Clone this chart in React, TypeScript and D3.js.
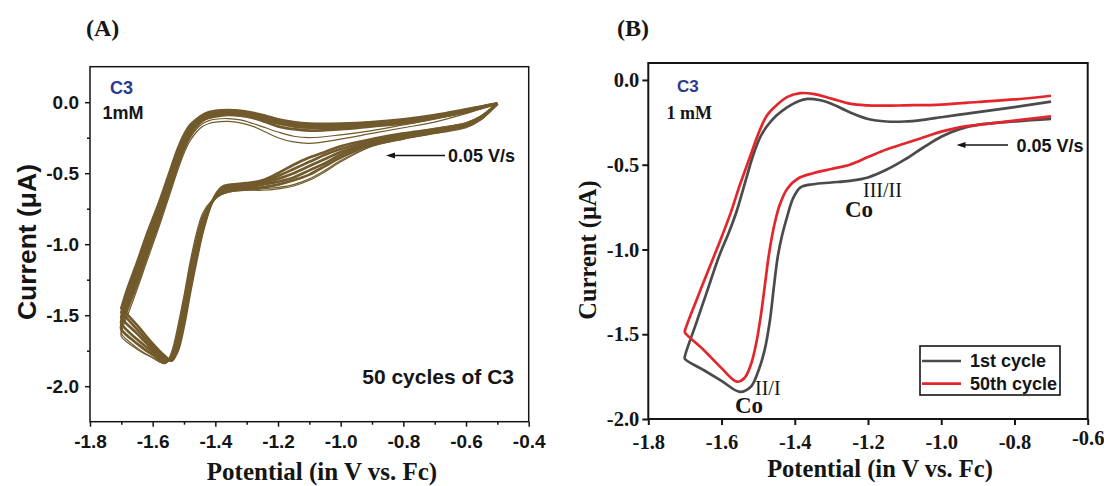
import React, { useEffect, useRef } from "react";
import * as d3 from "d3";

// ---------- panel (A): 50 cycles of C3, a representative set of cycles
const fwdPotential = [-0.5, -0.55, -0.6, -0.7, -0.8, -0.9, -1.0, -1.05, -1.1, -1.15, -1.2, -1.25, -1.3, -1.35, -1.38, -1.41, -1.44, -1.46, -1.48, -1.5, -1.52, -1.54, -1.56, -1.6, -1.65, -1.7];
const revPotential = [-1.7, -1.68, -1.65, -1.62, -1.58, -1.55, -1.52, -1.5, -1.48, -1.46, -1.44, -1.42, -1.4, -1.36, -1.32, -1.28, -1.24, -1.2, -1.15, -1.1, -1.0, -0.9, -0.8, -0.7, -0.6, -0.55, -0.5];

const cycle1Fwd = [-0.01, -0.12, -0.18, -0.22, -0.26, -0.31, -0.42, -0.49, -0.55, -0.59, -0.61, -0.62, -0.62, -0.63, -0.65, -0.69, -0.78, -0.92, -1.12, -1.36, -1.58, -1.76, -1.84, -1.8, -1.74, -1.65];
const cycle1Rev = [-1.62, -1.5, -1.32, -1.13, -0.88, -0.68, -0.48, -0.36, -0.27, -0.21, -0.17, -0.15, -0.14, -0.135, -0.145, -0.17, -0.21, -0.25, -0.28, -0.29, -0.26, -0.22, -0.18, -0.14, -0.08, -0.045, -0.01];
const cycle2Fwd = [-0.01, -0.12, -0.17, -0.22, -0.26, -0.31, -0.41, -0.48, -0.54, -0.58, -0.6, -0.61, -0.62, -0.63, -0.65, -0.7, -0.8, -0.95, -1.15, -1.39, -1.61, -1.78, -1.84, -1.8, -1.73, -1.63];
const cycle2Rev = [-1.6, -1.47, -1.3, -1.11, -0.86, -0.66, -0.46, -0.34, -0.25, -0.19, -0.15, -0.13, -0.12, -0.115, -0.125, -0.15, -0.18, -0.21, -0.24, -0.25, -0.23, -0.2, -0.16, -0.12, -0.07, -0.04, -0.01];
const cycle5Fwd = [-0.01, -0.11, -0.17, -0.21, -0.25, -0.3, -0.39, -0.45, -0.51, -0.55, -0.58, -0.6, -0.61, -0.62, -0.64, -0.7, -0.82, -0.98, -1.18, -1.42, -1.64, -1.79, -1.83, -1.78, -1.7, -1.6];
const cycle5Rev = [-1.57, -1.44, -1.27, -1.08, -0.84, -0.64, -0.44, -0.32, -0.23, -0.17, -0.13, -0.11, -0.1, -0.09, -0.095, -0.11, -0.14, -0.17, -0.19, -0.2, -0.19, -0.17, -0.15, -0.11, -0.07, -0.04, -0.01];
const cycle10Fwd = [-0.01, -0.11, -0.16, -0.21, -0.24, -0.29, -0.37, -0.43, -0.48, -0.53, -0.56, -0.58, -0.6, -0.61, -0.63, -0.7, -0.85, -1.02, -1.22, -1.46, -1.67, -1.8, -1.82, -1.76, -1.67, -1.56];
const cycle10Rev = [-1.54, -1.41, -1.24, -1.05, -0.81, -0.61, -0.41, -0.3, -0.22, -0.16, -0.12, -0.1, -0.09, -0.08, -0.085, -0.1, -0.125, -0.15, -0.17, -0.18, -0.18, -0.16, -0.14, -0.11, -0.065, -0.035, -0.01];
const cycle20Fwd = [-0.01, -0.1, -0.16, -0.2, -0.24, -0.28, -0.35, -0.4, -0.45, -0.5, -0.54, -0.57, -0.59, -0.6, -0.62, -0.7, -0.87, -1.05, -1.26, -1.5, -1.7, -1.81, -1.81, -1.74, -1.63, -1.52];
const cycle20Rev = [-1.51, -1.37, -1.2, -1.01, -0.77, -0.58, -0.38, -0.28, -0.2, -0.15, -0.11, -0.09, -0.08, -0.07, -0.075, -0.09, -0.115, -0.14, -0.16, -0.17, -0.17, -0.155, -0.135, -0.1, -0.06, -0.035, -0.01];
const cycle35Fwd = [-0.01, -0.1, -0.15, -0.19, -0.23, -0.27, -0.33, -0.37, -0.42, -0.47, -0.52, -0.56, -0.58, -0.59, -0.61, -0.7, -0.89, -1.08, -1.3, -1.54, -1.73, -1.82, -1.8, -1.72, -1.6, -1.48];
const cycle35Rev = [-1.48, -1.34, -1.16, -0.97, -0.74, -0.55, -0.35, -0.25, -0.18, -0.13, -0.1, -0.08, -0.07, -0.06, -0.065, -0.08, -0.1, -0.13, -0.15, -0.16, -0.16, -0.15, -0.13, -0.095, -0.055, -0.03, -0.01];
const cycle50Fwd = [-0.01, -0.1, -0.15, -0.19, -0.22, -0.26, -0.31, -0.35, -0.39, -0.44, -0.5, -0.55, -0.57, -0.58, -0.6, -0.7, -0.91, -1.11, -1.33, -1.57, -1.75, -1.82, -1.79, -1.7, -1.57, -1.45];
const cycle50Rev = [-1.45, -1.31, -1.13, -0.94, -0.71, -0.52, -0.33, -0.23, -0.16, -0.12, -0.09, -0.07, -0.06, -0.055, -0.06, -0.075, -0.095, -0.12, -0.14, -0.15, -0.15, -0.14, -0.12, -0.09, -0.05, -0.03, -0.01];

const cyclesA = [
  { cycle: 50, fwd: cycle50Fwd, rev: cycle50Rev },
  { cycle: 35, fwd: cycle35Fwd, rev: cycle35Rev },
  { cycle: 20, fwd: cycle20Fwd, rev: cycle20Rev },
  { cycle: 10, fwd: cycle10Fwd, rev: cycle10Rev },
  { cycle: 5, fwd: cycle5Fwd, rev: cycle5Rev },
  { cycle: 2, fwd: cycle2Fwd, rev: cycle2Rev },
  { cycle: 1, fwd: cycle1Fwd, rev: cycle1Rev },
];

const xTicksA = [-1.8, -1.6, -1.4, -1.2, -1.0, -0.8, -0.6, -0.4];
const xMinorA = [-1.7, -1.5, -1.3, -1.1, -0.9, -0.7, -0.5];
const yTicksA = [0, -0.5, -1.0, -1.5, -2.0];
const yMinorA = [-0.25, -0.75, -1.25, -1.75];

// ---------- panel (B): 1st vs 50th cycle, [potential, current]
const firstCycle: [number, number][] = [
  [-0.7, -0.23], [-0.8, -0.245], [-0.9, -0.265], [-0.95, -0.29], [-1.0, -0.335], [-1.05, -0.4],
  [-1.1, -0.47], [-1.15, -0.53], [-1.2, -0.575], [-1.25, -0.595], [-1.3, -0.605], [-1.35, -0.615],
  [-1.385, -0.635], [-1.405, -0.7], [-1.42, -0.8], [-1.435, -0.92], [-1.447, -1.05], [-1.457, -1.22],
  [-1.468, -1.42], [-1.483, -1.6], [-1.5, -1.72], [-1.52, -1.81], [-1.55, -1.84],
  [-1.6, -1.775], [-1.65, -1.71], [-1.7, -1.645],
  [-1.7, -1.63], [-1.67, -1.44], [-1.64, -1.25], [-1.605, -1.03], [-1.58, -0.9], [-1.558, -0.77],
  [-1.535, -0.6], [-1.513, -0.44], [-1.495, -0.34], [-1.475, -0.27], [-1.45, -0.21], [-1.42, -0.16],
  [-1.39, -0.125], [-1.365, -0.112], [-1.33, -0.12], [-1.3, -0.14], [-1.25, -0.19], [-1.2, -0.23],
  [-1.15, -0.245], [-1.1, -0.245], [-1.05, -0.235], [-1.0, -0.22], [-0.95, -0.205], [-0.9, -0.19],
  [-0.8, -0.16], [-0.7, -0.128],
];
const fiftiethCycle: [number, number][] = [
  [-0.7, -0.215], [-0.8, -0.24], [-0.9, -0.265], [-0.95, -0.28], [-1.0, -0.305], [-1.05, -0.34],
  [-1.1, -0.375], [-1.15, -0.41], [-1.2, -0.455], [-1.25, -0.5], [-1.3, -0.525], [-1.35, -0.55],
  [-1.39, -0.58], [-1.42, -0.64], [-1.44, -0.73], [-1.452, -0.82], [-1.462, -0.92], [-1.472, -1.05],
  [-1.481, -1.2], [-1.492, -1.38], [-1.505, -1.55], [-1.52, -1.68], [-1.538, -1.76], [-1.558, -1.78],
  [-1.6, -1.7], [-1.65, -1.59], [-1.7, -1.49],
  [-1.7, -1.48], [-1.665, -1.28], [-1.63, -1.09], [-1.604, -0.95], [-1.576, -0.79],
  [-1.55, -0.62], [-1.52, -0.44], [-1.5, -0.32], [-1.476, -0.21], [-1.45, -0.15],
  [-1.42, -0.1], [-1.385, -0.078], [-1.35, -0.082], [-1.3, -0.11], [-1.25, -0.14], [-1.2, -0.15],
  [-1.15, -0.152], [-1.1, -0.15], [-1.0, -0.145], [-0.9, -0.13], [-0.8, -0.115], [-0.7, -0.093],
];
const seriesB = [
  { name: "1st cycle", data: firstCycle, color: "#4b4b4b" },
  { name: "50th cycle", data: fiftiethCycle, color: "#e3262c" },
];

const xTicksB = [-1.8, -1.6, -1.4, -1.2, -1.0, -0.8, -0.6];
const yTicksB = [0, -0.5, -1.0, -1.5, -2.0];

const SANS = "'Liberation Sans', Arial, sans-serif";
const SERIF = "'Liberation Serif', 'Times New Roman', serif";
const BROWN = "#715a2c";
const BLUE = "#2b3990";
const INK = "#151515";

const fmt = (d: number) => d.toFixed(1);

function arrow(g: any, x1: number, x2: number, y: number) {
  // horizontal arrow pointing left, tip at x2
  g.append("line").attr("x1", x1).attr("x2", x2 + 7).attr("y1", y).attr("y2", y)
    .attr("stroke", INK).attr("stroke-width", 1.3);
  g.append("path").attr("d", `M${x2},${y} L${x2 + 9},${y - 3} L${x2 + 9},${y + 3} Z`).attr("fill", INK);
}

export default function App() {
  const chartRef = useRef<SVGSVGElement>(null);

  useEffect(() => {
    const svg = d3.select(chartRef.current);
    svg.selectAll("*").remove();

    // ================= Panel A =================
    const xA = d3.scaleLinear().domain([-1.8, -0.4]).range([90, 528.7]);
    const yA = d3.scaleLinear().domain([-2.25, 0.25]).range([421.7, 66.7]);
    const gA = svg.append("g");

    const lineA = d3.line<[number, number]>()
      .x((d) => xA(d[0]))
      .y((d) => yA(d[1]))
      .curve(d3.curveCatmullRom.alpha(0.5));

    cyclesA.forEach((c) => {
      const pts: [number, number][] = fwdPotential
        .map((e, i) => [e, c.fwd[i]] as [number, number])
        .concat(revPotential.map((e, i) => [e, c.rev[i]] as [number, number]));
      gA.append("path")
        .attr("d", lineA(pts))
        .attr("fill", "none")
        .attr("stroke", BROWN)
        .attr("stroke-linejoin", "round")
        .attr("stroke-width", c.cycle <= 2 ? 1.2 : 2.7);
    });

    // frame
    gA.append("rect")
      .attr("x", xA(-1.8)).attr("y", yA(0.25))
      .attr("width", xA(-0.4) - xA(-1.8)).attr("height", yA(-2.25) - yA(0.25))
      .attr("fill", "none").attr("stroke", INK).attr("stroke-width", 1.5);

    const axA = gA.append("g").attr("transform", `translate(0,${yA(-2.25)})`)
      .call(d3.axisBottom(xA).tickValues(xTicksA).tickSize(5).tickPadding(8).tickFormat(fmt as any));
    gA.append("g").attr("transform", `translate(0,${yA(-2.25)})`)
      .call(d3.axisBottom(xA).tickValues(xMinorA).tickSize(3).tickFormat(() => ""));
    const ayA = gA.append("g").attr("transform", `translate(${xA(-1.8)},0)`)
      .call(d3.axisLeft(yA).tickValues(yTicksA).tickSize(5).tickPadding(6).tickFormat(fmt as any));
    gA.append("g").attr("transform", `translate(${xA(-1.8)},0)`)
      .call(d3.axisLeft(yA).tickValues(yMinorA).tickSize(3).tickFormat(() => ""));
    gA.selectAll(".domain").remove();
    gA.selectAll(".tick line").attr("stroke", INK).attr("stroke-width", 1.5);
    [axA, ayA].forEach((a) =>
      a.attr("font-family", SANS).attr("font-size", 19).attr("font-weight", "bold")
        .selectAll("text").attr("fill", INK));

    gA.append("text").attr("x", 86).attr("y", 36).attr("font-family", SERIF)
      .attr("font-weight", "bold").attr("font-size", 24).attr("fill", INK).text("(A)");
    gA.append("text").attr("transform", "translate(36,242) rotate(-90)").attr("text-anchor", "middle")
      .attr("font-family", SANS).attr("font-weight", "bold").attr("font-size", 26.5).attr("fill", INK)
      .text("Current (\u03bcA)");
    gA.append("text").attr("x", 322).attr("y", 480).attr("text-anchor", "middle")
      .attr("font-family", SERIF).attr("font-weight", "bold").attr("font-size", 25).attr("fill", INK)
      .text("Potential (in V vs. Fc)");
    gA.append("text").attr("x", 110).attr("y", 93.5).attr("font-family", SANS).attr("font-weight", "bold")
      .attr("font-size", 18).attr("fill", BLUE).text("C3");
    gA.append("text").attr("x", 102.5).attr("y", 119).attr("font-family", SANS).attr("font-weight", "bold")
      .attr("font-size", 18).attr("fill", INK).text("1mM");
    gA.append("text").attr("x", 448).attr("y", 162).attr("font-family", SANS).attr("font-weight", "bold")
      .attr("font-size", 18).attr("fill", INK).text("0.05 V/s");
    arrow(gA, 445, 386, 155.5);
    gA.append("text").attr("x", 514).attr("y", 384).attr("text-anchor", "end").attr("font-family", SANS)
      .attr("font-weight", "bold").attr("font-size", 21).attr("fill", INK).text("50 cycles of C3");

    // ================= Panel B =================
    const xB = d3.scaleLinear().domain([-1.8, -0.6]).range([648.3, 1087.7]);
    const yB = d3.scaleLinear().domain([-2.0, 0.1]).range([419, 63]);
    const gB = svg.append("g");

    const lineB = d3.line<[number, number]>()
      .x((d) => xB(d[0]))
      .y((d) => yB(d[1]))
      .curve(d3.curveCatmullRom.alpha(0.5));

    seriesB.forEach((s) => {
      gB.append("path").attr("d", lineB(s.data)).attr("fill", "none")
        .attr("stroke", s.color).attr("stroke-width", 2.7).attr("stroke-linejoin", "round");
    });

    gB.append("rect")
      .attr("x", xB(-1.8)).attr("y", yB(0.1))
      .attr("width", xB(-0.6) - xB(-1.8)).attr("height", yB(-2.0) - yB(0.1))
      .attr("fill", "none").attr("stroke", INK).attr("stroke-width", 2);

    const axB = gB.append("g").attr("transform", `translate(0,${yB(-2.0)})`)
      .call(d3.axisBottom(xB).tickValues(xTicksB).tickSize(6).tickPadding(9).tickFormat(fmt as any));
    const ayB = gB.append("g").attr("transform", `translate(${xB(-1.8)},0)`)
      .call(d3.axisLeft(yB).tickValues(yTicksB).tickSize(6).tickPadding(3).tickFormat(fmt as any));
    gB.selectAll(".domain").remove();
    gB.selectAll(".tick line").attr("stroke", INK).attr("stroke-width", 2);
    [axB, ayB].forEach((a) =>
      a.attr("font-family", SERIF).attr("font-size", 20.5).attr("font-weight", "bold")
        .selectAll("text").attr("fill", INK));
    // the last x label sits a little higher in the original
    axB.selectAll(".tick text").filter((d: any) => d === -0.6)
      .attr("y", function (this: any) { return +this.getAttribute("y") - 4; });

    gB.append("text").attr("x", 617).attr("y", 36).attr("font-family", SERIF)
      .attr("font-weight", "bold").attr("font-size", 24).attr("fill", INK).text("(B)");
    gB.append("text").attr("transform", "translate(596,250) rotate(-90)").attr("text-anchor", "middle")
      .attr("font-family", SERIF).attr("font-weight", "bold").attr("font-size", 24.5).attr("fill", INK)
      .text("Current (\u03bcA)");
    gB.append("text").attr("x", 880).attr("y", 477).attr("text-anchor", "middle")
      .attr("font-family", SERIF).attr("font-weight", "bold").attr("font-size", 24.5).attr("fill", INK)
      .text("Potential (in V vs. Fc)");
    gB.append("text").attr("x", 677).attr("y", 91.5).attr("font-family", SANS).attr("font-weight", "bold")
      .attr("font-size", 17).attr("fill", BLUE).text("C3");
    gB.append("text").attr("x", 666.5).attr("y", 118.5).attr("font-family", SERIF).attr("font-weight", "bold")
      .attr("font-size", 18).attr("fill", INK).text("1 mM");
    gB.append("text").attr("x", 1016.5).attr("y", 151.5).attr("font-family", SANS).attr("font-weight", "bold")
      .attr("font-size", 18).attr("fill", INK).text("0.05 V/s");
    arrow(gB, 1008, 956.5, 145);

    // Co labels
    gB.append("text").attr("x", 845).attr("y", 217).attr("font-family", SERIF).attr("font-weight", "bold")
      .attr("font-size", 23).attr("fill", INK).text("Co");
    gB.append("text").attr("x", 863).attr("y", 197).attr("font-family", SERIF)
      .attr("font-size", 20).attr("fill", INK).text("III/II");
    gB.append("text").attr("x", 735).attr("y", 413).attr("font-family", SERIF).attr("font-weight", "bold")
      .attr("font-size", 23).attr("fill", INK).text("Co");
    gB.append("text").attr("x", 755).attr("y", 395).attr("font-family", SERIF)
      .attr("font-size", 20).attr("fill", INK).text("II/I");

    // legend
    const lg = gB.append("g").attr("transform", "translate(920,346)");
    lg.append("rect").attr("width", 140).attr("height", 49).attr("fill", "#fff")
      .attr("stroke", INK).attr("stroke-width", 1.6);
    seriesB.forEach((s, i) => {
      const yy = 15 + i * 22.6;
      lg.append("line").attr("x1", 2).attr("x2", 41).attr("y1", yy).attr("y2", yy)
        .attr("stroke", s.color).attr("stroke-width", 2.7);
      lg.append("text").attr("x", 50).attr("y", yy + 6.3).attr("font-family", SANS)
        .attr("font-weight", "bold").attr("font-size", 18).attr("fill", INK).text(s.name);
    });
  }, []);

  return (
    <svg
      ref={chartRef}
      width={1104}
      height={486}
      style={{ position: "absolute", left: 0, top: 0, background: "#fff" }}
    ></svg>
  );
}
